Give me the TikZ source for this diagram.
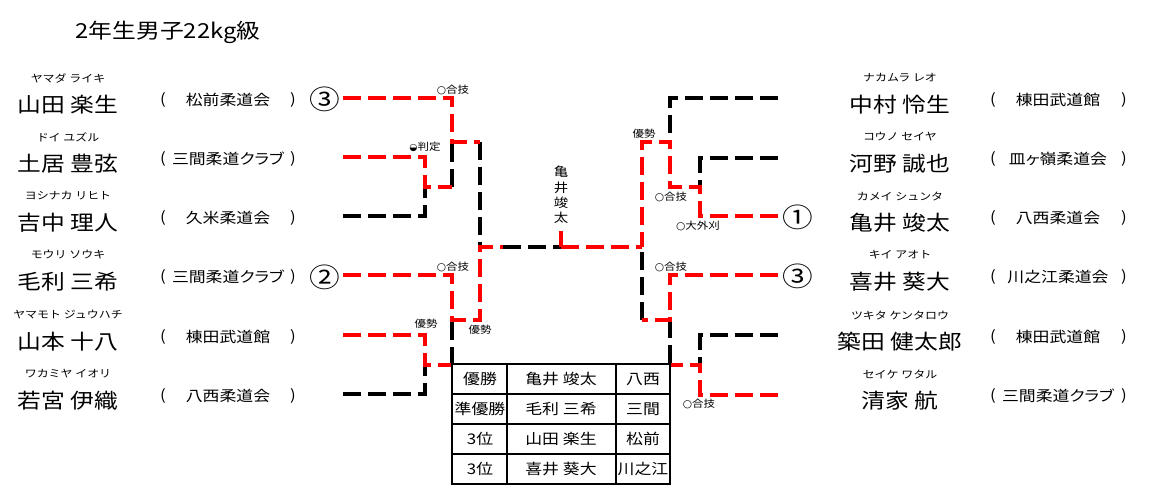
\documentclass[tikz,border=0pt]{standalone}
\usepackage{fontspec}
\usepackage{tikz}
\newfontfamily\jpfont[FakeStretch=1.15]{Noto Sans CJK JP}
\newfontfamily\jppfont[FakeStretch=1.15,RawFeature=+palt]{Noto Sans CJK JP}
\newfontfamily\symfont{DejaVu Sans}
\newcommand{\shiromaru}{{\symfont\fontsize{8}{9}\selectfont ○}}
\usetikzlibrary{positioning}
\tikzstyle{kachisen} = [draw=red, line width=3pt, dash pattern=on 13.5pt off 5.25pt]
\tikzstyle{makesen} = [draw=black, line width=3pt, dash pattern=on 13.5pt off 5.25pt]
\tikzstyle{yomi} = [font=\jpfont\fontsize{7.8}{9}\selectfont, inner sep=0pt]
\tikzstyle{namae} = [font=\jpfont\fontsize{15.5}{18}\selectfont, inner sep=0pt]
\tikzstyle{dojo} = [font=\jppfont\fontsize{11}{13}\selectfont, inner sep=0pt]
\tikzstyle{waza} = [font=\jpfont\fontsize{7.5}{9}\selectfont, inner sep=0pt]
\tikzstyle{maru} = [font=\jpfont\fontsize{20}{22}\selectfont, inner sep=0pt]
\tikzstyle{hyo} = [font=\jpfont\fontsize{11}{13}\selectfont, inner sep=0pt]

\begin{document}
\begin{tikzpicture}[x=0.75pt, y=-0.75pt]
	\useasboundingbox (0,0) rectangle (1150,490);
	\node[namae] (title) at (168,32) {2年生男子22kg級};

	\node[yomi] (yL1) at (68,78) {ヤマダ ライキ};
	\node[namae] (nL1) at (68,105) {山田 楽生};
	\node[dojo] (aL1) at (163,100) {(};
	\node[dojo] (dL1) at (228,100) {松前柔道会};
	\node[dojo] (bL1) at (293,100) {)};
	\node[yomi] (yL2) at (68,137) {ドイ ユズル};
	\node[namae] (nL2) at (68,164) {土居 豊弦};
	\node[dojo] (aL2) at (163,159) {(};
	\node[dojo] (dL2) at (228,159) {三間柔道クラブ};
	\node[dojo] (bL2) at (293,159) {)};
	\node[yomi] (yL3) at (68,196) {ヨシナカ リヒト};
	\node[namae] (nL3) at (68,223) {吉中 理人};
	\node[dojo] (aL3) at (163,218) {(};
	\node[dojo] (dL3) at (228,218) {久米柔道会};
	\node[dojo] (bL3) at (293,218) {)};
	\node[yomi] (yL4) at (68,255) {モウリ ソウキ};
	\node[namae] (nL4) at (68,282) {毛利 三希};
	\node[dojo] (aL4) at (163,277) {(};
	\node[dojo] (dL4) at (228,277) {三間柔道クラブ};
	\node[dojo] (bL4) at (293,277) {)};
	\node[yomi] (yL5) at (68,315) {ヤマモト ジュウハチ};
	\node[namae] (nL5) at (68,342) {山本 十八};
	\node[dojo] (aL5) at (163,337) {(};
	\node[dojo] (dL5) at (228,337) {棟田武道館};
	\node[dojo] (bL5) at (293,337) {)};
	\node[yomi] (yL6) at (68,374) {ワカミヤ イオリ};
	\node[namae] (nL6) at (68,401) {若宮 伊織};
	\node[dojo] (aL6) at (163,396) {(};
	\node[dojo] (dL6) at (228,396) {八西柔道会};
	\node[dojo] (bL6) at (293,396) {)};

	\node[yomi] (yR1) at (900,78) {ナカムラ レオ};
	\node[namae] (nR1) at (900,105) {中村 怜生};
	\node[dojo] (aR1) at (993,100) {(};
	\node[dojo] (dR1) at (1058,100) {棟田武道館};
	\node[dojo] (bR1) at (1124,100) {)};
	\node[yomi] (yR2) at (900,137) {コウノ セイヤ};
	\node[namae] (nR2) at (900,164) {河野 誠也};
	\node[dojo] (aR2) at (993,159) {(};
	\node[dojo] (dR2) at (1058,159) {皿ヶ嶺柔道会};
	\node[dojo] (bR2) at (1124,159) {)};
	\node[yomi] (yR3) at (900,196) {カメイ シュンタ};
	\node[namae] (nR3) at (900,223) {亀井 竣太};
	\node[dojo] (aR3) at (993,218) {(};
	\node[dojo] (dR3) at (1058,218) {八西柔道会};
	\node[dojo] (bR3) at (1124,218) {)};
	\node[yomi] (yR4) at (900,255) {キイ アオト};
	\node[namae] (nR4) at (900,282) {喜井 葵大};
	\node[dojo] (aR4) at (993,277) {(};
	\node[dojo] (dR4) at (1058,277) {川之江柔道会};
	\node[dojo] (bR4) at (1124,277) {)};
	\node[yomi] (yR5) at (900,315) {ツキタ ケンタロウ};
	\node[namae] (nR5) at (900,342) {築田 健太郎};
	\node[dojo] (aR5) at (993,337) {(};
	\node[dojo] (dR5) at (1058,337) {棟田武道館};
	\node[dojo] (bR5) at (1124,337) {)};
	\node[yomi] (yR6) at (900,374) {セイケ ワタル};
	\node[namae] (nR6) at (900,401) {清家 航};
	\node[dojo] (aR6) at (993,396) {(};
	\node[dojo] (dR6) at (1058,396) {三間柔道クラブ};
	\node[dojo] (bR6) at (1124,396) {)};

	\node[maru] (iL1) at (325,99) {③};
	\node[maru] (iL4) at (325,277) {②};
	\node[maru] (iR3) at (798,217) {①};
	\node[maru] (iR4) at (798,276) {③};

	\coordinate (a1) at (343,98);
	\coordinate (a2) at (343,157);
	\coordinate (a3) at (343,216);
	\coordinate (a4) at (343,275);
	\coordinate (a5) at (343,335);
	\coordinate (a6) at (343,394);
	\coordinate (r1a) at (425,157);
	\coordinate (r1m) at (425,187);
	\coordinate (r1b) at (425,216);
	\coordinate (r2a) at (452,98);
	\coordinate (r2m) at (452,142);
	\coordinate (r2b) at (452,187);
	\coordinate (r3a) at (425,335);
	\coordinate (r3m) at (425,365);
	\coordinate (r3b) at (425,394);
	\coordinate (r4a) at (452,275);
	\coordinate (r4m) at (452,320);
	\coordinate (r4b) at (452,365);
	\coordinate (s1a) at (480,142);
	\coordinate (s1m) at (480,247);
	\coordinate (s1c) at (503,247);
	\coordinate (s1b) at (480,320);
	\coordinate (fT) at (561,231);
	\coordinate (fC) at (561,247);

	\coordinate (b1) at (778,98);
	\coordinate (b2) at (778,158);
	\coordinate (b3) at (778,216);
	\coordinate (b4) at (778,275);
	\coordinate (b5) at (778,335);
	\coordinate (b6) at (778,395);
	\coordinate (q1a) at (700,158);
	\coordinate (q1m) at (700,187);
	\coordinate (q1b) at (700,216);
	\coordinate (q2a) at (670,98);
	\coordinate (q2m) at (670,142);
	\coordinate (q2b) at (670,187);
	\coordinate (q3a) at (700,335);
	\coordinate (q3m) at (700,365);
	\coordinate (q3b) at (700,395);
	\coordinate (q4a) at (670,275);
	\coordinate (q4m) at (670,320);
	\coordinate (q4b) at (670,365);
	\coordinate (s2a) at (642,142);
	\coordinate (s2m) at (642,247);
	\coordinate (s2b) at (642,320);

	\draw[makesen] (a3) -- (r1b) -- (r1m);
	\draw[makesen] (r2b) -- (r2m);
	\draw[makesen] (s1a) -- (s1m);
	\draw[makesen] (a6) -- (r3b) -- (r3m);
	\draw[makesen] (r4b) -- (r4m);
	\draw[makesen] (s1c) -- (fC);
	\draw[kachisen] (a1) -- (r2a) -- (r2m) -- (s1a);
	\draw[kachisen] (a2) -- (r1a) -- (r1m) -- (r2b);
	\draw[kachisen] (a4) -- (r4a) -- (r4m) -- (s1b) -- (s1m) -- (s1c);
	\draw[kachisen] (a5) -- (r3a) -- (r3m) -- (r4b);

	\draw[makesen] (b1) -- (q2a) -- (q2m);
	\draw[makesen] (b2) -- (q1a) -- (q1m);
	\draw[makesen] (s2b) -- (s2m);
	\draw[makesen] (q4m) -- (q4b);
	\draw[makesen] (b5) -- (q3a) -- (q3m);
	\draw[kachisen] (b3) -- (q1b) -- (q1m) -- (q2b) -- (q2m) -- (s2a) -- (s2m);
	\draw[kachisen] (b4) -- (q4a) -- (q4m) -- (s2b);
	\draw[kachisen] (b6) -- (q3b) -- (q3m) -- (q4b);
	\draw[kachisen] (fC) -- (s2m);
	\draw[kachisen] (fT) -- (fC);

	\node[font=\jpfont\fontsize{9.4}{11.6}\selectfont, align=center, inner sep=0pt] (yusho) at (561,195) {亀\\井\\竣\\太};

	\node[waza] (w1) at (453,90) {\shiromaru 合技};
	\node[waza] (w2) at (425,147) {{\symfont\fontsize{7}{7}\selectfont ◒}判定};
	\node[waza] (w3) at (453,267) {\shiromaru 合技};
	\node[waza] (w4) at (426,324) {優勢};
	\node[waza] (w5) at (480,330) {優勢};
	\node[waza] (w6) at (644,134) {優勢};
	\node[waza] (w7) at (671,197) {\shiromaru 合技};
	\node[waza] (w8) at (698,226) {\shiromaru 大外刈};
	\node[waza] (w9) at (671,267) {\shiromaru 合技};
	\node[waza] (w10) at (699,404) {\shiromaru 合技};

	\draw[line width=1.2pt] (452,364) rectangle (670,484);
	\draw[line width=0.8pt] (452,394) -- (670,394) (452,424) -- (670,424) (452,454) -- (670,454);
	\draw[line width=0.8pt] (507,364) -- (507,484) (616,364) -- (616,484);
	\node[hyo] (t11) at (480,379) {優勝};
	\node[hyo] (t12) at (561,379) {亀井 竣太};
	\node[hyo] (t13) at (643,379) {八西};
	\node[hyo] (t21) at (480,409) {準優勝};
	\node[hyo] (t22) at (561,409) {毛利 三希};
	\node[hyo] (t23) at (643,409) {三間};
	\node[hyo] (t31) at (480,439) {3位};
	\node[hyo] (t32) at (561,439) {山田 楽生};
	\node[hyo] (t33) at (643,439) {松前};
	\node[hyo] (t41) at (480,469) {3位};
	\node[hyo] (t42) at (561,469) {喜井 葵大};
	\node[hyo] (t43) at (643,469) {川之江};
\end{tikzpicture}
\end{document}
